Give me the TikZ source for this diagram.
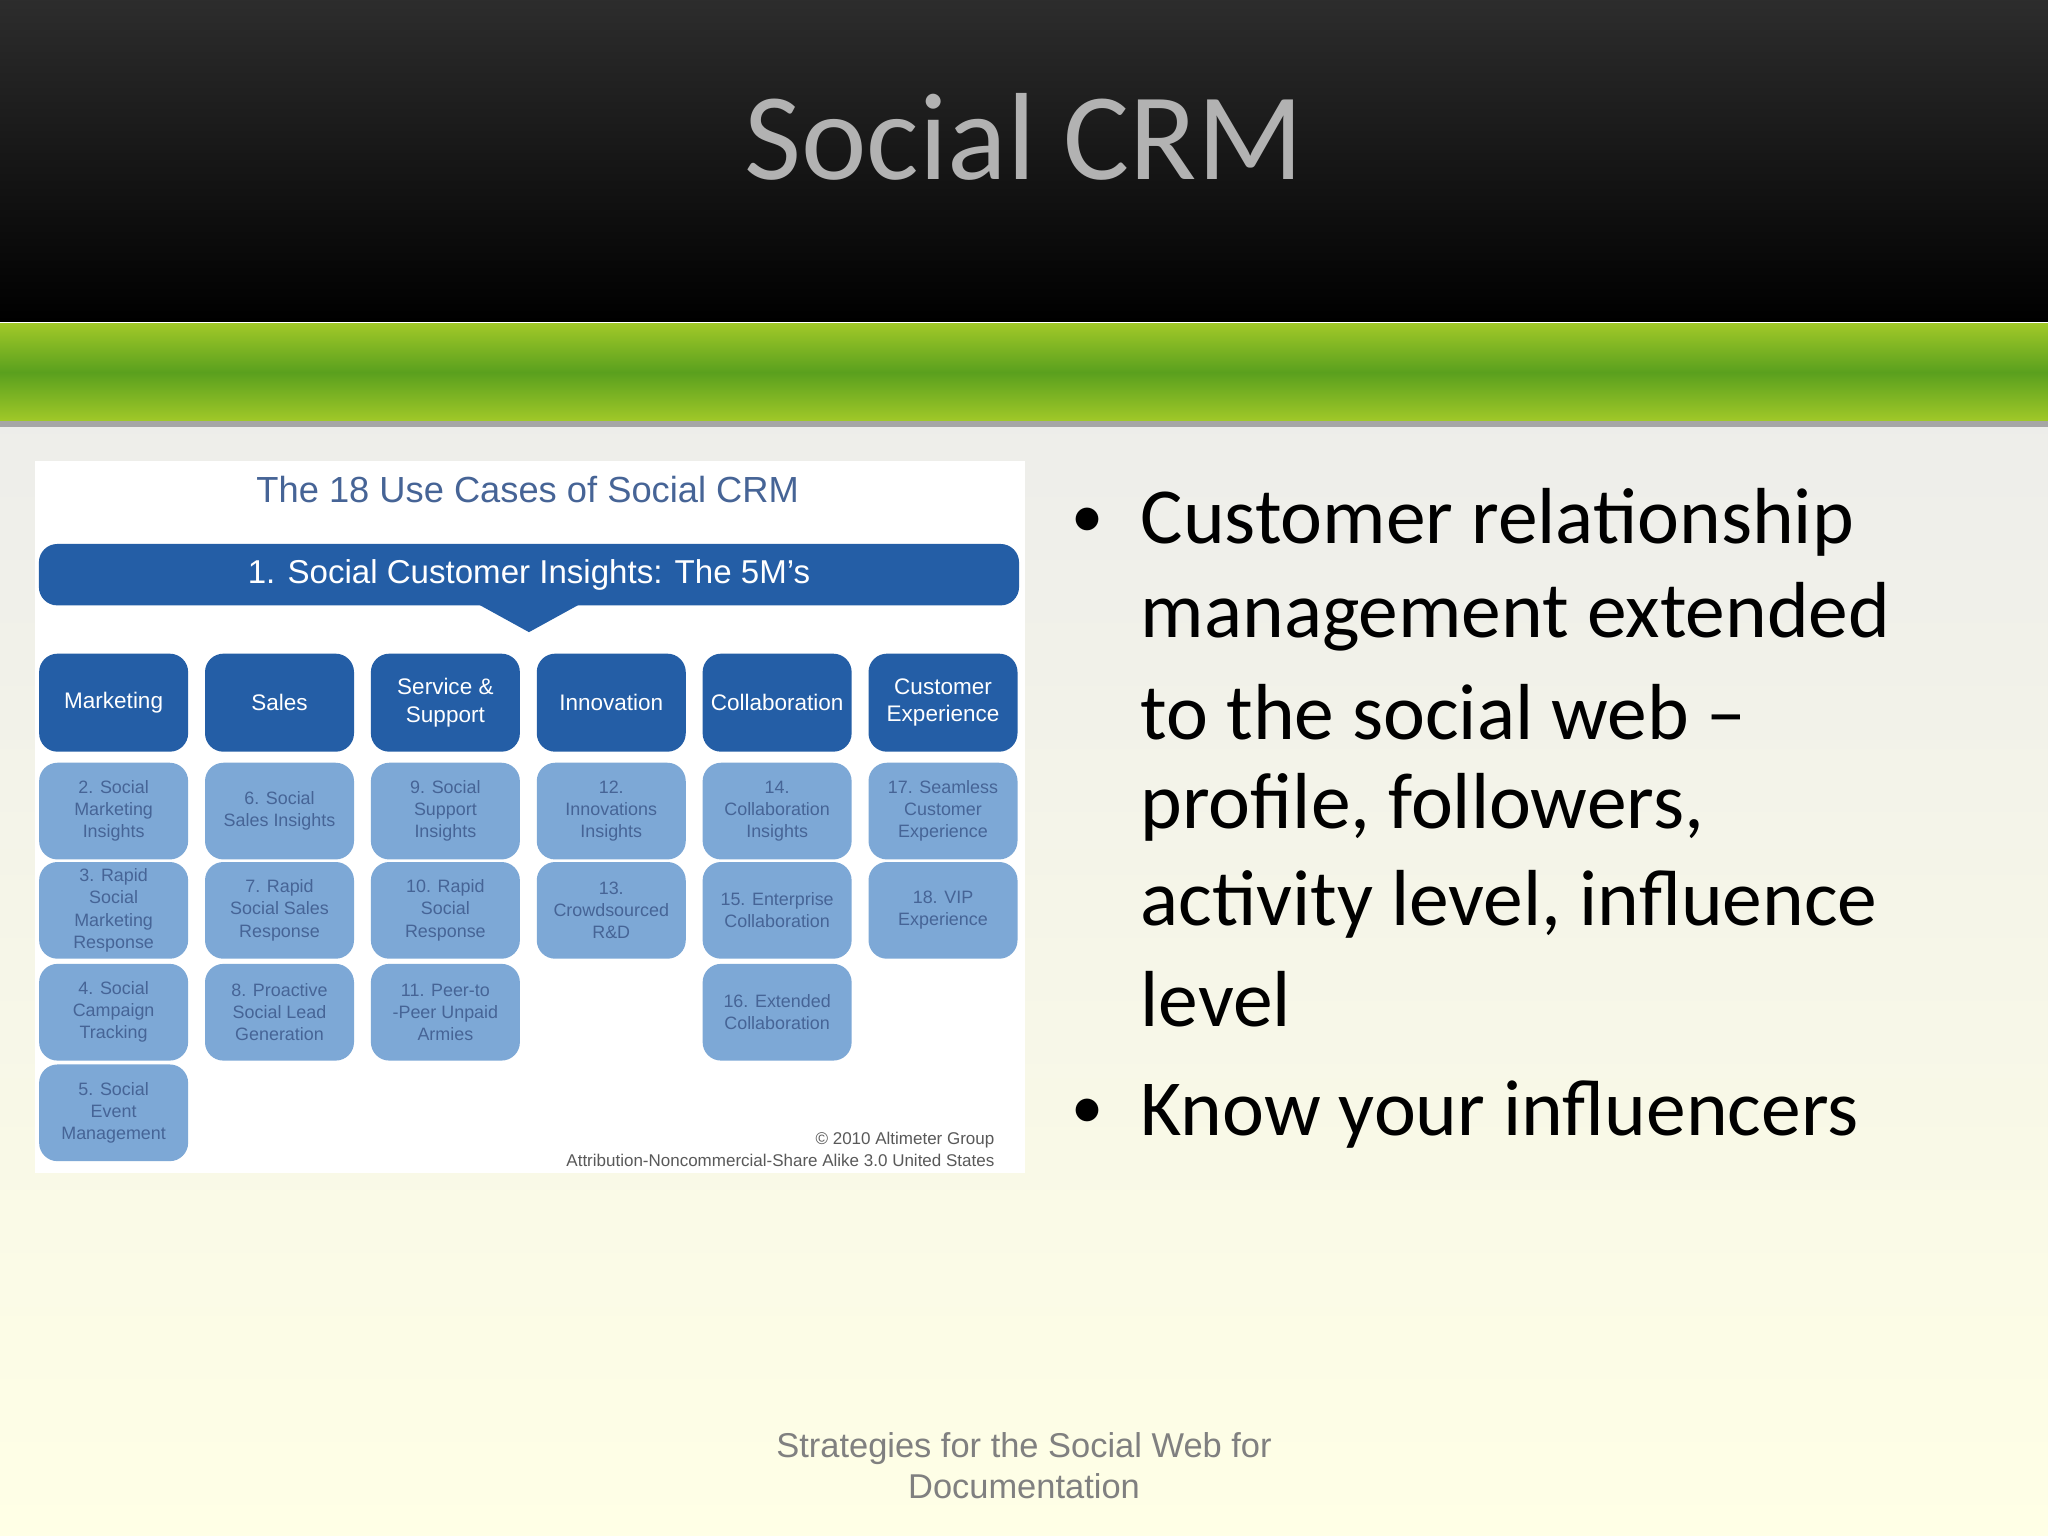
\documentclass[tikz,border=0pt]{standalone}
\usepackage{fontspec}
\setmainfont{Carlito}
\newfontfamily\arial{Liberation Sans}
\definecolor{hblue}{RGB}{36,94,166}
\definecolor{sblue}{RGB}{125,168,214}
\definecolor{stext}{RGB}{70,100,150}
\definecolor{gtop}{RGB}{160,200,40}
\definecolor{gmid}{RGB}{90,160,30}
\begin{document}
\begin{tikzpicture}[x=0.01cm,y=-0.01cm,
 hdr/.style={draw=none,fill=hblue,rounded corners=4pt,text=white,font=\arial\fontsize{4.9}{6}\selectfont,align=center,inner sep=1pt},
 sub/.style={fill=sblue,rounded corners=4pt,text=stext,font=\arial\fontsize{3.9}{4.8}\selectfont,align=center,inner sep=1pt},
 bul/.style={anchor=west,font=\fontsize{17.3}{20}\selectfont,text=black}]
\useasboundingbox (0,0) rectangle (1568,1176);
\shade[top color=gray!35!black,bottom color=black] (0,0) rectangle (1568,246);
\shade[top color=gtop,bottom color=gmid] (0,248) rectangle (1568,285);
\shade[top color=gmid,bottom color=gtop] (0,285) rectangle (1568,322);
\fill[gray!70] (0,322) rectangle (1568,327);
\shade[top color=yellow!8!gray!15,bottom color=yellow!10!white] (0,327) rectangle (1568,1176);
\node (title) at (784,105) {\fontsize{27}{32}\selectfont\color{gray!60}Social CRM};
% diagram
\fill[white] (27,353) rectangle (785,898);
\node (dt) at (404,375) {\arial\fontsize{7.9}{9}\selectfont\color{stext}The 18 Use Cases of Social CRM};
\node[hdr,minimum width=7.5cm,minimum height=0.47cm,font=\arial\fontsize{7.2}{9}\selectfont] (bar) at (405,440) {1. Social Customer Insights: The 5M’s};
\fill[hblue] (365,462) -- (445,462) -- (405,484) -- cycle;
\foreach \x/\t [count=\i] in {87/Marketing,214/Sales,341/{Service \&\\Support},468/Innovation,595/Collaboration,722/{Customer\\Experience}}
  \node[hdr,minimum width=1.14cm,minimum height=0.75cm] (h\i) at (\x,538) {\t};
\foreach \x/\r/\t in {
 87/621/{2. Social\\Marketing\\Insights},87/697/{3. Rapid\\Social\\Marketing\\Response},87/775/{4. Social\\Campaign\\Tracking},87/852/{5. Social\\Event\\Management},
 214/621/{6. Social\\Sales Insights},214/697/{7. Rapid\\Social Sales\\Response},214/775/{8. Proactive\\Social Lead\\Generation},
 341/621/{9. Social\\Support\\Insights},341/697/{10. Rapid\\Social\\Response},341/775/{11. Peer-to\\-Peer Unpaid\\Armies},
 468/621/{12.\\Innovations\\Insights},468/697/{13.\\Crowdsourced\\R\&D},
 595/621/{14.\\Collaboration\\Insights},595/697/{15. Enterprise\\Collaboration},595/775/{16. Extended\\Collaboration},
 722/621/{17. Seamless\\Customer\\Experience},722/697/{18. VIP\\Experience}}
  \node[sub,minimum width=1.14cm,minimum height=0.74cm] at (\x,\r) {\t};
\node[anchor=east,font=\arial\fontsize{3.7}{4.6}\selectfont,text=gray!70!black,align=right,inner sep=0pt] (cp) at (762,880) {© 2010 Altimeter Group\\Attribution-Noncommercial-Share Alike 3.0 United States};
% bullets
\foreach \y/\t [count=\i] in {400/Customer relationship,472/management extended,545/to the social web –,618/{profile, followers,},692/{activity level, influence},765/level,853/Know your influencers}
  \node[bul] (l\i) at (861,\y) {\t};
\node[bul,font=\fontsize{14}{16}\selectfont] (b1) at (808,400) {•};
\node[bul,font=\fontsize{14}{16}\selectfont] (b2) at (808,853) {•};
\node[align=center,font=\arial\fontsize{7.5}{9}\selectfont,text=gray] (ft) at (784,1122) {Strategies for the Social Web for\\Documentation};
\end{tikzpicture}
\end{document}
